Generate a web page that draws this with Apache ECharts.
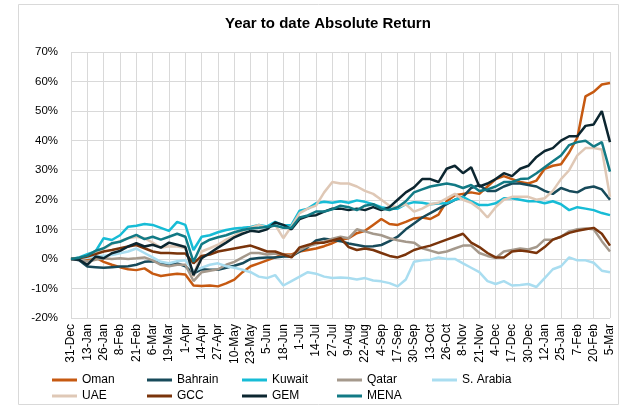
<!DOCTYPE html>
<html><head><meta charset="utf-8">
<script src="https://cdn.jsdelivr.net/npm/echarts@6/dist/echarts.min.js"></script>
<style>html,body{margin:0;padding:0;background:#fff}#c{width:631px;height:409px}</style>
</head><body><div id="c"></div>
<script>
// Tick labels (every 13 days); data sampled every half tick interval (~6.5 days)
const tickLabels = ['31-Dec','13-Jan','26-Jan','8-Feb','21-Feb','6-Mar','19-Mar','1-Apr','14-Apr','27-Apr','10-May','23-May','5-Jun','18-Jun','1-Jul','14-Jul','27-Jul','9-Aug','22-Aug','4-Sep','17-Sep','30-Sep','13-Oct','26-Oct','8-Nov','21-Nov','4-Dec','17-Dec','30-Dec','12-Jan','25-Jan','7-Feb','20-Feb','5-Mar'];
const seriesNames = ['Oman','Bahrain','Kuwait','Qatar','S. Arabia','UAE','GCC','GEM','MENA'];
const seriesColors = ['#C65911','#174A5A','#17BCD6','#A5998C','#A9DDF0','#DFC8B6','#7A340B','#0C2630','#127A85'];

const oman = [0,0.3,-0.3,0.5,-1,-2,-2.8,-3.5,-3.8,-3.2,-5,-5.8,-5.4,-5,-5.3,-9,-9.2,-9,-9.3,-8.3,-7,-4.5,-2.5,-1.5,-0.5,0.5,1.5,1.5,2.5,3,3.5,4.3,5.3,6.5,7,8.7,9.5,11.5,13.5,11.8,11.5,12.5,13.7,14,13.5,15,19.5,21.5,22,22.5,22,24.5,27,28,27,26,25.5,26.5,30.5,31.5,32,36,41,55,56.5,59,59.5];
const bahrain = [0,-0.5,-2.6,-2.8,-3,-2.8,-2.6,-2.5,-2,-1,-0.8,-1.3,-2,-1.5,-2.5,-5,-3.5,-3.7,-3.7,-3,-2.3,-1.5,0,0.3,0.5,0.5,0.8,0.8,2.5,4,6.2,6.8,6.5,6,5.2,4.7,4.2,4.3,4.7,6,7.5,10,12,14,15.5,17,18.5,20,21,24,25,23,23,24.5,25.5,25.5,25,24.5,23,22,24,23,22.5,24,24.5,23.5,20];
const kuwait = [0,0.5,1.6,2.5,7,6.4,8,10.9,11.2,11.8,11.5,10.5,9.5,12.5,11.5,3,7.5,8,9,9.8,10.3,10.5,10.8,11.5,11,12.5,11.3,11.5,16.3,17,18.8,19.3,19,19.5,19,19.8,19.3,18.5,17.5,17,17,18.5,19.2,19,18.5,18.7,18.8,20,21,19.5,18.2,18.2,18.8,20.5,20.5,20,19.5,19.5,18.8,19.5,18.5,16.5,17.5,17,16.5,15.5,14.8];
const qatar = [0,0,-0.9,-0.3,0.2,0,0.2,0,0.2,0.5,-0.5,-2,-2.5,-2,-2,-7.5,-4.5,-4,-3.5,-2,-1,0.5,2,2,1.5,1.8,1.5,1,3,4.3,5,5.8,6.8,7.5,7,10,9.3,8.5,8,7,6.3,5.8,5.5,3.6,2.8,2,2.5,3.5,4.5,4.5,2,1,0.3,2.5,3,3.5,3.2,4,6.5,6.5,7.5,9.3,10,10.3,10,6,2.5];
const saudi = [0,0.2,0.4,0.8,1.1,1.3,1.9,2.5,3.5,2,0.5,-1,-1.5,-0.8,-0.5,-4,-3,-2,-1.5,-2.5,-3,-3.7,-4.5,-6,-6.5,-5.5,-9,-7.5,-6,-4.5,-5,-6,-6.5,-6.3,-6.5,-7,-6.5,-7.3,-7.6,-8.2,-9.3,-7,-1,-0.5,-0.3,0.5,0,0,-1.5,-3,-4.5,-7.5,-8.5,-7.5,-9,-8.8,-8.5,-9.5,-6.5,-3.5,-2.5,0.5,-0.5,-0.5,-1.3,-4,-4.5];
const uae = [0,0.3,0.7,2.2,3.5,5,6,7,7.5,7,5.5,3.8,4.3,4.2,3.7,-6,2.5,3.6,4.8,6.5,7.8,9.5,10.5,11.5,10.5,11.5,7,11,15.5,17,18,22.5,26,25.5,25.5,24.5,23,22,20,18,17.5,18.5,16,17,18.5,19,20.5,22,20,19,17,14,17.5,20,21,21,21,20,20.5,23,27,30,35,37.5,37.5,37,21];
const gcc = [0,0.2,0.8,1.6,2.5,3,3.6,4.2,4.7,3.6,2.5,2,2,1.8,1.8,-1.5,1,1.5,2.5,3,3.5,4,4.5,3.5,2.5,2.5,1.5,0.5,3.9,4.7,5.5,5.5,6.2,7,4,3,3.5,3,2,1,0.5,1.5,3,3.8,4.5,5.5,6.5,7.5,8.5,5.5,4,2,0.5,0.5,2.5,2.8,2.5,2,4,6.5,7.5,8.8,9.5,10,10.5,8.5,4.5];
const gem = [0,-0.3,-2,0.8,0.2,1.9,2.7,4.2,5.3,4.2,4.8,3.8,5.5,4.8,4,-5.5,0.2,2,3.8,5.5,7.3,8.5,9.5,9.2,10,12.3,11.5,10,13.5,14.5,14.8,16,17,17,16.5,17,16.5,17.5,16.5,17.5,20,22.5,24.2,27,27,26,30.5,31.5,29,31,24.5,25.5,27,29,28,30.5,31.5,34.5,36.5,37.5,40,41.5,41.5,45,45.5,50,39.5];
const mena = [0,0.4,1.1,2.7,3.6,5.3,5.8,7,8.1,6.7,7.5,6.5,7.5,8.5,7.5,-1,5,6.5,7.3,8,9,9.8,10.3,10.5,10.8,11.3,10.5,10.5,14,14.7,16,16,16.8,18,17.5,16.5,18,18.5,17,16.5,17.5,19.5,22.5,23.5,24.5,25,25.5,25,24,25,23,23.5,24.5,26,26,27,27.2,29,31,33,35,38.5,39.5,40,38,39.5,29.5];

const seriesValues = [oman,bahrain,kuwait,qatar,saudi,uae,gcc,gem,mena];
const stepsPerTick = 2;
const maxX = (tickLabels.length - 1) * stepsPerTick;

const chart = echarts.init(document.getElementById('c'));
const FONT = 'Liberation Sans';
const legends = seriesNames.map((n, k) => ({
  data: [n], left: 52 + (k % 5) * 95, top: 374 + Math.floor(k / 5) * 16,
  icon: 'rect', itemWidth: 25, itemHeight: 3, itemGap: 0, padding: 0,
  textStyle: { fontFamily: FONT, fontSize: 12, color: '#000' }
}));
chart.setOption({
  animation: false,
  backgroundColor: '#fff',
  title: { text: 'Year to date Absolute Return', left: 220, top: 11,
    textStyle: { fontFamily: FONT, fontSize: 15, fontWeight: 'bold', color: '#000' } },
  graphic: [{ type: 'rect', shape: { x: 18.5, y: 4.5, width: 600, height: 400 },
    style: { fill: 'none', stroke: '#D9D9D9', lineWidth: 1 }, silent: true }],
  legend: legends,
  grid: { left: 71, right: 21, top: 52, bottom: 91, containLabel: false },
  xAxis: { type: 'value', min: 0, max: maxX, interval: stepsPerTick,
    axisLine: { show: false }, axisTick: { show: false },
    splitLine: { show: true, lineStyle: { color: '#D9D9D9', width: 1 } },
    axisLabel: { rotate: 90, margin: 6, fontFamily: FONT, fontSize: 12, color: '#000',
      formatter: v => tickLabels[Math.round(v / stepsPerTick)] || '' } },
  yAxis: { type: 'value', min: -20, max: 70, interval: 10,
    axisLine: { show: false }, axisTick: { show: false },
    splitLine: { show: true, lineStyle: { color: '#D9D9D9', width: 1 } },
    axisLabel: { formatter: '{value}%', margin: 13, fontFamily: FONT, fontSize: 11.5, color: '#000' } },
  series: seriesNames.map((n, k) => ({
    name: n, type: 'line', showSymbol: false, symbol: 'none',
    data: seriesValues[k].map((v, i) => [i, v]),
    lineStyle: { color: seriesColors[k], width: 2.5 }, itemStyle: { color: seriesColors[k] }
  }))
});
</script></body></html>
